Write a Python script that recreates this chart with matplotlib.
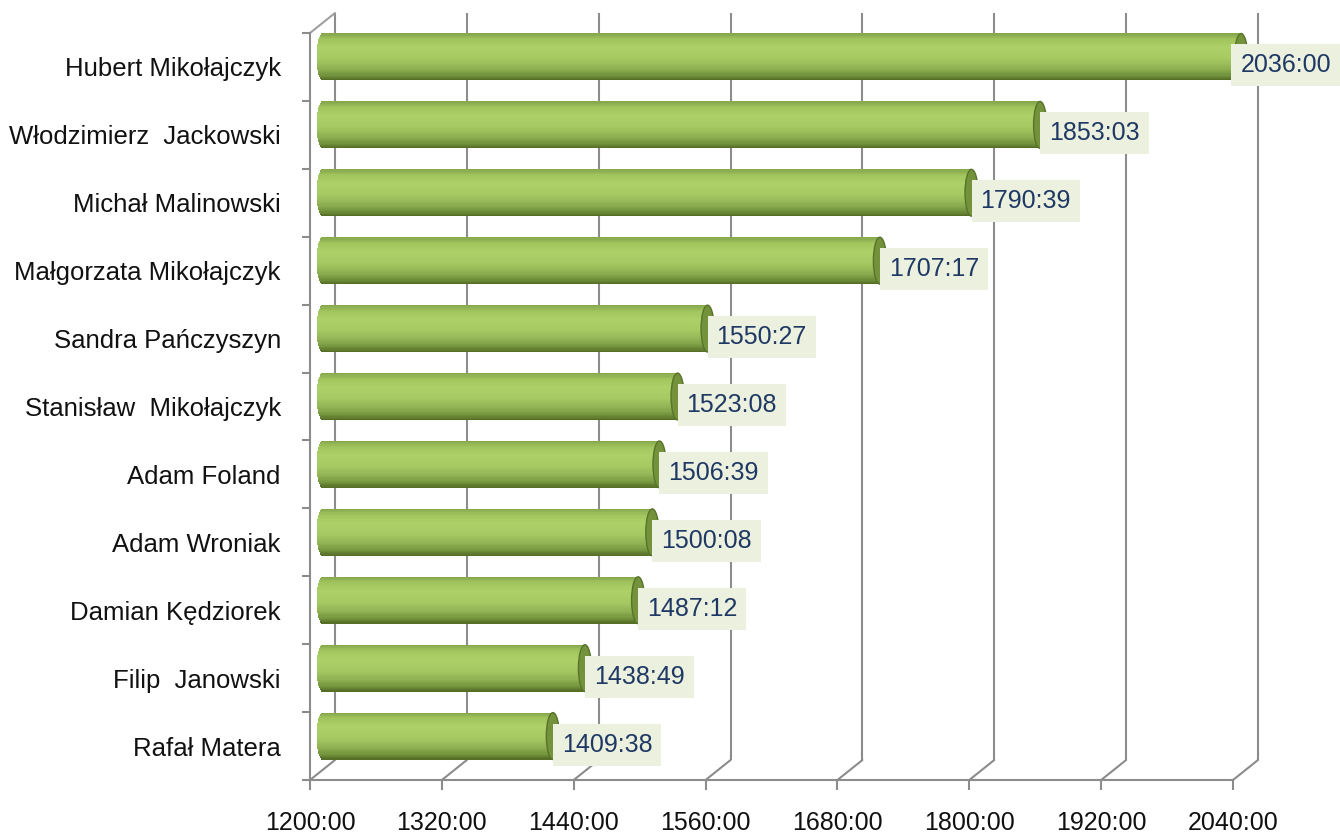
import matplotlib
matplotlib.use("Agg")
import matplotlib.pyplot as plt
import matplotlib.transforms as mtransforms
from matplotlib.colors import LinearSegmentedColormap
from matplotlib.patches import ConnectionPatch, Ellipse
import numpy as np

# data (top to bottom, as shown)
names = [
    "Hubert Mikołajczyk",
    "Włodzimierz  Jackowski",
    "Michał Malinowski",
    "Małgorzata Mikołajczyk",
    "Sandra Pańczyszyn",
    "Stanisław  Mikołajczyk",
    "Adam Foland",
    "Adam Wroniak",
    "Damian Kędziorek",
    "Filip  Janowski",
    "Rafał Matera",
]
times = [
    "2036:00", "1853:03", "1790:39", "1707:17", "1550:27", "1523:08",
    "1506:39", "1500:08", "1487:12", "1438:49", "1409:38",
]
x_ticks = [1200, 1320, 1440, 1560, 1680, 1800, 1920, 2040]
x_tick_labels = ["1200:00", "1320:00", "1440:00", "1560:00",
                 "1680:00", "1800:00", "1920:00", "2040:00"]


def to_hours(text):
    hours, minutes = text.split(":")
    return int(hours) + int(minutes) / 60.0


values = [to_hours(t) for t in times]

plt.rcParams["font.family"] = ["Liberation Sans", "DejaVu Sans"]

W, H, DPI = 1340, 834, 100
GRID = "#8c8c8c"
LABEL_BG = "#ebf1de"
LABEL_FG = "#1f3864"

fig = plt.figure(figsize=(W / DPI, H / DPI), dpi=DPI)
ax = fig.add_axes([310 / W, 54 / H, 923 / W, 747 / H])
ax.set_autoscale_on(False)
ax.set_xlim(x_ticks[0], x_ticks[-1])
n = len(names)
ax.set_ylim(-0.5, n - 0.5)
ypos = [n - 1 - i for i in range(n)]


def shifted(base, dx, dy):
    return base + mtransforms.ScaledTranslation(dx / DPI, dy / DPI, fig.dpi_scale_trans)


x_frame = mtransforms.blended_transform_factory(ax.transData, ax.transAxes)
back_frame = shifted(x_frame, 25, 20)
mid = shifted(ax.transData, 12.5, 10)

# back wall gridlines and floor diagonals
for v in x_ticks:
    ax.plot([v, v], [0, 1], transform=back_frame, color=GRID, lw=1.5,
            clip_on=False, zorder=0.5, solid_capstyle="butt")
    ax.add_artist(ConnectionPatch((v, 0), (v, 0), coordsA=x_frame, coordsB=back_frame,
                                  color=GRID, lw=1.5, zorder=0.5, clip_on=False))
ax.add_artist(ConnectionPatch((x_ticks[0], 1), (x_ticks[0], 1), coordsA=x_frame,
                              coordsB=back_frame, color="#a0a0a0", lw=1.5,
                              zorder=0.5, clip_on=False))

# cylinder bars built from thin shaded strips
px_per_hour = 923 / (x_ticks[-1] - x_ticks[0])
bar_h = 0.69
cap_w = 13 / px_per_hour
round_w = 6 / px_per_hour
cyl = LinearSegmentedColormap.from_list("cyl", [
    (0.0, "#88a84c"), (0.12, "#a2c55e"), (0.3, "#add068"), (0.55, "#a6c962"),
    (0.75, "#90b152"), (0.9, "#74943e"), (1.0, "#566f27"),
])
strips = 40
edges = np.linspace(0.5, -0.5, strips + 1)
for y, v in zip(ypos, values):
    for k in range(strips):
        top, bot = edges[k], edges[k + 1]
        c = (top + bot) / 2
        left = x_ticks[0] - round_w * np.sqrt(max(0.0, 1 - (2 * c) ** 2))
        ax.barh(y + c * bar_h, v - left, left=left, height=(top - bot) * bar_h * 1.05,
                color=cyl(k / (strips - 1)), linewidth=0, transform=mid,
                zorder=2, clip_on=False)
    ax.add_patch(Ellipse((v, y), cap_w, bar_h, transform=mid, facecolor="#74923c",
                         edgecolor="#58732a", lw=1.0, zorder=3, clip_on=False))

# value labels (the box sits over the lower part of the bar end)
LBL_DX, LBL_DY = 21.5, -5.5
labels = []
for y, v, t in zip(ypos, values, times):
    txt = ax.text(v, y, t, transform=shifted(ax.transData, LBL_DX, LBL_DY),
                  ha="left", va="baseline", fontsize=18, color=LABEL_FG,
                  bbox=dict(boxstyle="square,pad=0.36", fc=LABEL_BG, ec="none"),
                  zorder=4, clip_on=False)
    labels.append(txt)

# axes styling
for side in ("top", "right"):
    ax.spines[side].set_visible(False)
for side in ("left", "bottom"):
    ax.spines[side].set_color(GRID)
    ax.spines[side].set_linewidth(1.5)
ax.set_xticks(x_ticks, x_tick_labels)
ax.set_yticks(ypos, names)
ax.set_yticks([p - 0.5 for p in range(n + 1)], minor=True)
ax.tick_params(axis="x", which="major", direction="out", length=7.2, width=1.5,
               color=GRID, labelsize=18, pad=15, labelcolor="#111111")
ax.tick_params(axis="y", which="major", length=0, pad=21, labelsize=18.5,
               labelcolor="#111111")
ax.tick_params(axis="y", which="minor", direction="out", length=5.8, width=1.5, color=GRID)
ax.tick_params(axis="x", which="minor", length=0)
ax.patch.set_alpha(0)

# keep a label box inside the figure, as the original does
fig.canvas.draw()
for txt in labels:
    box = txt.get_bbox_patch().get_window_extent()
    if box.x1 > W:
        txt.set_transform(shifted(ax.transData, LBL_DX - (box.x1 - W), LBL_DY))

fig.savefig("out.png", dpi=DPI)
